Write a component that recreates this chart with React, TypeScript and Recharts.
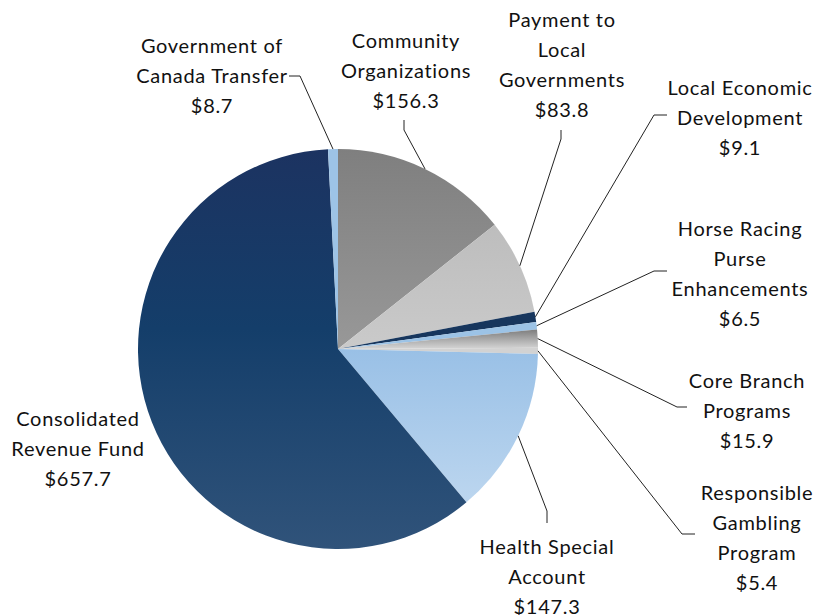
import React from 'react';
import { PieChart, Pie, Cell } from 'recharts';

const categories: string[] = [
  'Community\nOrganizations',
  'Payment to\nLocal\nGovernments',
  'Local Economic\nDevelopment',
  'Horse Racing\nPurse\nEnhancements',
  'Core Branch\nPrograms',
  'Responsible\nGambling\nProgram',
  'Health Special\nAccount',
  'Consolidated\nRevenue Fund',
  'Government of\nCanada Transfer',
];

const values: number[] = [156.3, 83.8, 9.1, 6.5, 15.9, 5.4, 147.3, 657.7, 8.7];

const fills: string[] = [
  'url(#gCommunity)',
  'url(#gPayment)',
  '#17365d',
  '#9cc3e6',
  'url(#gCore)',
  '#d2d2d2',
  'url(#gHealth)',
  'url(#gConsolidated)',
  '#9dc3e6',
];

// label placement (text centre of first line, and leader-line points on the label side)
const labelLayout: { x: number; y: number; leader?: number[][] }[] = [
  { x: 406, y: 40, leader: [[404, 120], [404, 130]] },
  { x: 562, y: 19, leader: [[561, 130], [561, 139]] },
  { x: 740, y: 87, leader: [[667, 115], [654, 115]] },
  { x: 740, y: 228, leader: [[667, 271], [654, 271]] },
  { x: 747, y: 380, leader: [[687, 407], [677, 407]] },
  { x: 757, y: 492, leader: [[695, 534], [682, 534]] },
  { x: 547, y: 546, leader: [[547, 523], [547, 511]] },
  { x: 78, y: 418 },
  { x: 212, y: 45, leader: [[289, 76], [300, 76]] },
];

const data = categories.map((name, i) => ({ name, value: values[i] }));

const FONT = 'Lato, "Open Sans", sans-serif';
const LINE = 30;

const renderLabel = (props: any) => {
  const { cx, cy, midAngle, outerRadius, index, value } = props;
  const L = labelLayout[index];
  const RAD = Math.PI / 180;
  const ex = cx + outerRadius * Math.cos(-midAngle * RAD);
  const ey = cy + outerRadius * Math.sin(-midAngle * RAD);
  const lines = [...categories[index].split('\n'), '$' + Number(value).toFixed(1)];
  return (
    <g key={'lbl' + index}>
      {L.leader && (
        <polyline
          points={[...L.leader, [ex, ey]].map((p) => p.join(',')).join(' ')}
          fill="none"
          stroke="#222"
          strokeWidth={1}
        />
      )}
      {lines.map((t, i) => (
        <text
          key={i}
          x={L.x}
          y={L.y + i * LINE}
          textAnchor="middle"
          dominantBaseline="central"
          fontFamily={FONT}
          fontSize={20}
          letterSpacing={0.7}
          fill="#111"
        >
          {t}
        </text>
      ))}
    </g>
  );
};

export default function App() {
  return (
    <div style={{ position: 'absolute', left: 0, top: 0, background: '#fff' }}>
      <PieChart width={815} height={615} margin={{ top: 0, right: 0, bottom: 0, left: 0 }}>
        <defs>
          <linearGradient id="gCommunity" x1="0" y1="0" x2="0" y2="1">
            <stop offset="0%" stopColor="#7f7f7f" />
            <stop offset="100%" stopColor="#989898" />
          </linearGradient>
          <linearGradient id="gPayment" x1="0" y1="0" x2="0" y2="1">
            <stop offset="0%" stopColor="#bdbdbd" />
            <stop offset="100%" stopColor="#cacaca" />
          </linearGradient>
          <linearGradient id="gCore" x1="0" y1="0" x2="0" y2="1">
            <stop offset="0%" stopColor="#7d7d7d" />
            <stop offset="100%" stopColor="#d6d6d6" />
          </linearGradient>
          <linearGradient id="gHealth" x1="0" y1="0" x2="0" y2="1">
            <stop offset="0%" stopColor="#99c0e6" />
            <stop offset="100%" stopColor="#bcd6ef" />
          </linearGradient>
          <linearGradient id="gConsolidated" x1="0" y1="0" x2="0" y2="1">
            <stop offset="0%" stopColor="#1c3361" />
            <stop offset="45%" stopColor="#143e6a" />
            <stop offset="100%" stopColor="#30537a" />
          </linearGradient>
        </defs>
        <Pie
          data={data}
          dataKey="value"
          nameKey="name"
          cx={338}
          cy={349}
          outerRadius={200}
          startAngle={90}
          endAngle={-270}
          stroke="none"
          label={renderLabel}
          labelLine={false}
          isAnimationActive={false}
        >
          {data.map((d, i) => (
            <Cell key={i} fill={fills[i]} />
          ))}
        </Pie>
      </PieChart>
    </div>
  );
}
